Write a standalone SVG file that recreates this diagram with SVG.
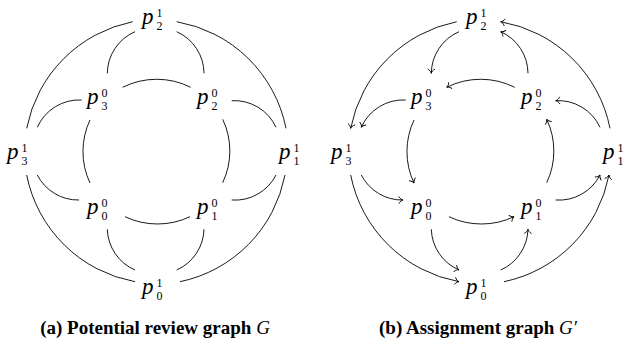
<svg xmlns="http://www.w3.org/2000/svg" width="624" height="347" viewBox="0 0 624 347">
<style>
.e{fill:none;stroke:#000;stroke-width:0.9}
.a{marker-end:url(#arr)}
.p{font-family:"Liberation Serif",serif;font-style:italic;font-size:23px;fill:#000}
.i{font-family:"Liberation Serif",serif;font-size:12px;fill:#000}
.cap{font-family:"Liberation Serif",serif;font-weight:bold;font-size:19px;fill:#000}
.m{font-weight:normal;font-style:italic}
</style>
<defs>
<marker id="arr" viewBox="-5 -5 7 10" markerWidth="7" markerHeight="10" refX="0" refY="0" orient="auto" markerUnits="userSpaceOnUse" style="overflow:visible">
<path d="M-4,-3.3 C-3,-1.3 -1.2,-0.3 0,0 C-1.2,0.3 -3,1.3 -4,3.3" fill="none" stroke="#000" stroke-width="0.9" stroke-linecap="round"/>
</marker>
</defs>
<rect width="624" height="347" fill="#fff"/>

<!-- (a) Potential review graph -->
<g id="graphA">
<g id="edgesA">
<path class="e" d="M132.7,21.7 A135,135 0 0 0 26.7,128.3"/>
<path class="e" d="M176.7,21.7 A135,135 0 0 1 286,128.3"/>
<path class="e" d="M26.7,175 A135,135 0 0 0 135,281.7"/>
<path class="e" d="M285,175 A135,135 0 0 1 180,281.7"/>
<path class="e" d="M135,31.7 A46,46 0 0 0 107.3,73.3"/>
<path class="e" d="M176.7,31.7 A46,46 0 0 1 204,73.3"/>
<path class="e" d="M81.7,100 A46,46 0 0 0 37.3,127.3"/>
<path class="e" d="M231.7,100.7 A46,46 0 0 1 276,127.3"/>
<path class="e" d="M37.3,175 A46,46 0 0 0 79,200"/>
<path class="e" d="M276,175 A46,46 0 0 1 231.7,200"/>
<path class="e" d="M107.3,229.3 A46,46 0 0 0 135,270"/>
<path class="e" d="M204,229.3 A46,46 0 0 1 176.7,270"/>
<path class="e" d="M122.7,87.3 A76,76 0 0 1 190.7,87.3"/>
<path class="e" d="M90,120 A74,74 0 0 0 90,183"/>
<path class="e" d="M222.7,119.3 A74,74 0 0 1 222.7,182.7"/>
<path class="e" d="M125,216.7 A76,76 0 0 0 190,216.7"/>
</g>
<g id="a_p21"><text class="p" x="142" y="24">p</text><text class="i" x="156.5" y="16.5">1</text><text class="i" x="156.5" y="30">2</text></g>
<g id="a_p30"><text class="p" x="87" y="104">p</text><text class="i" x="101.5" y="96.5">0</text><text class="i" x="101.5" y="110">3</text></g>
<g id="a_p20"><text class="p" x="197" y="104">p</text><text class="i" x="211.5" y="96.5">0</text><text class="i" x="211.5" y="110">2</text></g>
<g id="a_p31"><text class="p" x="7" y="159">p</text><text class="i" x="21.5" y="151.5">1</text><text class="i" x="21.5" y="165">3</text></g>
<g id="a_p11"><text class="p" x="279" y="159">p</text><text class="i" x="293.5" y="151.5">1</text><text class="i" x="293.5" y="165">1</text></g>
<g id="a_p00"><text class="p" x="87" y="214">p</text><text class="i" x="101.5" y="206.5">0</text><text class="i" x="101.5" y="220">0</text></g>
<g id="a_p10"><text class="p" x="197" y="214">p</text><text class="i" x="211.5" y="206.5">0</text><text class="i" x="211.5" y="220">1</text></g>
<g id="a_p01"><text class="p" x="142" y="294">p</text><text class="i" x="156.5" y="286.5">1</text><text class="i" x="156.5" y="300">0</text></g>
<text class="cap" x="155" y="334" text-anchor="middle">(a) Potential review graph <tspan class="m">G</tspan></text>
</g>

<!-- (b) Assignment graph -->
<g id="graphB" transform="translate(324,0)">
<g id="edgesB">
<path class="e a" d="M132.7,21.7 A135,135 0 0 0 26.7,128.3"/>
<path class="e a" d="M286,128.3 A135,135 0 0 0 176.7,21.7"/>
<path class="e a" d="M26.7,175 A135,135 0 0 0 135,281.7"/>
<path class="e a" d="M180,281.7 A135,135 0 0 0 285,175"/>
<path class="e a" d="M135,31.7 A46,46 0 0 0 107.3,73.3"/>
<path class="e a" d="M204,73.3 A46,46 0 0 0 176.7,31.7"/>
<path class="e a" d="M81.7,100 A46,46 0 0 0 37.3,127.3"/>
<path class="e a" d="M276,127.3 A46,46 0 0 0 231.7,100.7"/>
<path class="e a" d="M37.3,175 A46,46 0 0 0 79,200"/>
<path class="e a" d="M231.7,200 A46,46 0 0 0 276,175"/>
<path class="e a" d="M107.3,229.3 A46,46 0 0 0 135,270"/>
<path class="e a" d="M176.7,270 A46,46 0 0 0 204,229.3"/>
<path class="e a" d="M190.7,87.3 A76,76 0 0 0 122.7,87.3"/>
<path class="e a" d="M90,120 A74,74 0 0 0 90,183"/>
<path class="e a" d="M222.7,182.7 A74,74 0 0 0 222.7,119.3"/>
<path class="e a" d="M125,216.7 A76,76 0 0 0 190,216.7"/>
</g>
<g id="b_p21"><text class="p" x="142" y="24">p</text><text class="i" x="156.5" y="16.5">1</text><text class="i" x="156.5" y="30">2</text></g>
<g id="b_p30"><text class="p" x="87" y="104">p</text><text class="i" x="101.5" y="96.5">0</text><text class="i" x="101.5" y="110">3</text></g>
<g id="b_p20"><text class="p" x="197" y="104">p</text><text class="i" x="211.5" y="96.5">0</text><text class="i" x="211.5" y="110">2</text></g>
<g id="b_p31"><text class="p" x="7" y="159">p</text><text class="i" x="21.5" y="151.5">1</text><text class="i" x="21.5" y="165">3</text></g>
<g id="b_p11"><text class="p" x="279" y="159">p</text><text class="i" x="293.5" y="151.5">1</text><text class="i" x="293.5" y="165">1</text></g>
<g id="b_p00"><text class="p" x="87" y="214">p</text><text class="i" x="101.5" y="206.5">0</text><text class="i" x="101.5" y="220">0</text></g>
<g id="b_p10"><text class="p" x="197" y="214">p</text><text class="i" x="211.5" y="206.5">0</text><text class="i" x="211.5" y="220">1</text></g>
<g id="b_p01"><text class="p" x="142" y="294">p</text><text class="i" x="156.5" y="286.5">1</text><text class="i" x="156.5" y="300">0</text></g>
<text class="cap" x="154" y="334" text-anchor="middle">(b) Assignment graph <tspan class="m">G′</tspan></text>
</g>
</svg>
